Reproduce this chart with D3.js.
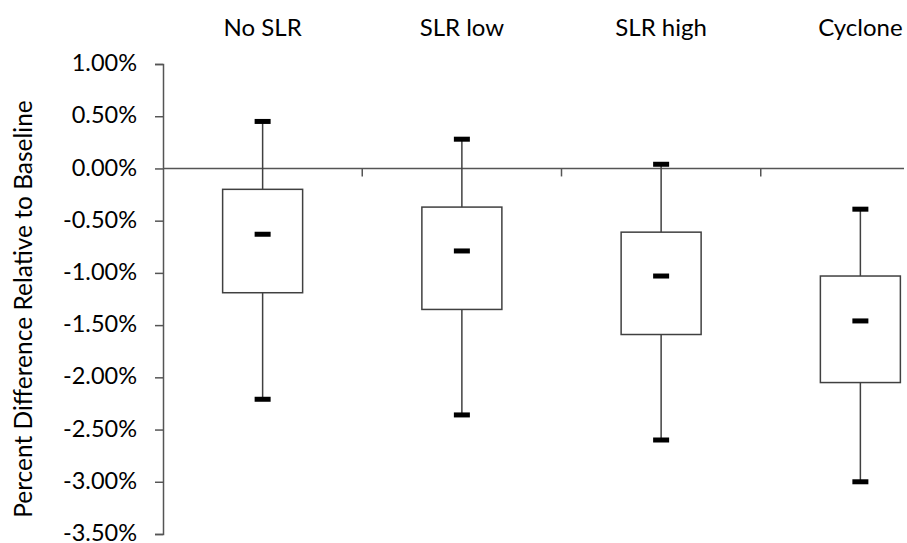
<!DOCTYPE html>
<html lang="en">
  <head>
    <meta charset="UTF-8" />
    <title>Box Plot</title>
    <script src="https://cdn.jsdelivr.net/npm/d3@7"></script>
    <style>
      body { margin: 0; background: #fff; }
      text { font-family: Lato, 'Open Sans', sans-serif; fill: #000; }
    </style>
  </head>
  <body>
    <div id="container"></div>
    <script>
      // data (percent difference relative to baseline)
      const categories = ['No SLR', 'SLR low', 'SLR high', 'Cyclone']
      const whiskerHigh = [0.45, 0.28, 0.04, -0.39]
      const q3 = [-0.20, -0.37, -0.61, -1.03]
      const median = [-0.63, -0.79, -1.03, -1.46]
      const q1 = [-1.19, -1.35, -1.59, -2.05]
      const whiskerLow = [-2.21, -2.36, -2.60, -3.00]
      const yTicks = [1, 0.5, 0, -0.5, -1, -1.5, -2, -2.5, -3, -3.5]

      const width = 907
      const height = 543
      const marginLeft = 163
      const plotRight = 960   // last category is cut off by the picture edge
      const marginTop = 64
      const plotBottom = 534

      const dataset = categories.map((c, i) => ({
        cat: c, hi: whiskerHigh[i], q3: q3[i], med: median[i], q1: q1[i], lo: whiskerLow[i]
      }))

      const xScale = d3.scaleBand()
        .domain(categories)
        .range([marginLeft, plotRight])
        .padding(0)

      const yScale = d3.scaleLinear()
        .domain([-3.5, 1])
        .range([plotBottom, marginTop])

      const svg = d3.create('svg')
        .attr('width', width)
        .attr('height', height)
        .attr('viewBox', [0, 0, width, height])

      const cx = (d) => xScale(d.cat) + xScale.bandwidth() / 2
      const boxW = 80
      const capW = 16
      const capH = 5

      // y axis
      svg.append('g')
        .attr('transform', `translate(${marginLeft}, 0)`)
        .call(d3.axisLeft(yScale)
          .tickValues(yTicks)
          .tickSize(8)
          .tickPadding(18)
          .tickFormat((v) => v.toFixed(2) + '%'))
        .call((g) => g.select('.domain').attr('stroke', '#555').attr('stroke-width', 1.5))
        .call((g) => g.selectAll('.tick line').attr('stroke', '#555').attr('stroke-width', 1.5))
        .call((g) => g.selectAll('.tick text')
          .attr('font-size', 23.5)
          .attr('dy', '0.28em')
          .attr('font-family', 'Lato, sans-serif')
          .attr('fill', '#000'))

      // x axis at zero, ticks between categories
      const xAxis = svg.append('g')
        .attr('transform', `translate(0, ${yScale(0)})`)
      xAxis.append('line')
        .attr('x1', marginLeft).attr('x2', 904)
        .attr('stroke', '#555').attr('stroke-width', 1.5)
      xAxis.selectAll('line.tick')
        .data(categories.slice(1))
        .join('line')
        .attr('class', 'tick')
        .attr('x1', (c) => xScale(c)).attr('x2', (c) => xScale(c))
        .attr('y1', 0).attr('y2', 8)
        .attr('stroke', '#555').attr('stroke-width', 1.5)

      // category labels on top
      svg.append('g')
        .selectAll('text')
        .data(categories)
        .join('text')
        .attr('x', (c) => xScale(c) + xScale.bandwidth() / 2)
        .attr('y', 36)
        .attr('text-anchor', 'middle')
        .attr('font-size', 24)
        .text((c) => c)

      // y axis title
      svg.append('text')
        .attr('transform', `translate(32, 309) rotate(-90)`)
        .attr('text-anchor', 'middle')
        .attr('font-size', 24.5)
        .text('Percent Difference Relative to Baseline')

      const boxes = svg.append('g')

      // whiskers
      boxes.selectAll('line.whisker')
        .data(dataset)
        .join('line')
        .attr('class', 'whisker')
        .attr('x1', cx).attr('x2', cx)
        .attr('y1', (d) => yScale(d.hi))
        .attr('y2', (d) => yScale(d.lo))
        .attr('stroke', '#404040')
        .attr('stroke-width', 1.5)

      // boxes
      boxes.selectAll('rect.box')
        .data(dataset)
        .join('rect')
        .attr('class', 'box')
        .attr('x', (d) => cx(d) - boxW / 2)
        .attr('y', (d) => yScale(d.q3))
        .attr('width', boxW)
        .attr('height', (d) => yScale(d.q1) - yScale(d.q3))
        .attr('fill', '#fff')
        .attr('stroke', '#404040')
        .attr('stroke-width', 1.5)

      // caps and median marks
      const marks = dataset.flatMap((d) => [
        { cat: d.cat, v: d.hi }, { cat: d.cat, v: d.med }, { cat: d.cat, v: d.lo }
      ])
      boxes.selectAll('rect.mark')
        .data(marks)
        .join('rect')
        .attr('class', 'mark')
        .attr('x', (m) => cx(m) - capW / 2)
        .attr('y', (m) => yScale(m.v) - capH / 2)
        .attr('width', capW)
        .attr('height', capH)
        .attr('fill', '#000')

      document.getElementById('container').append(svg.node())
    </script>
  </body>
</html>
